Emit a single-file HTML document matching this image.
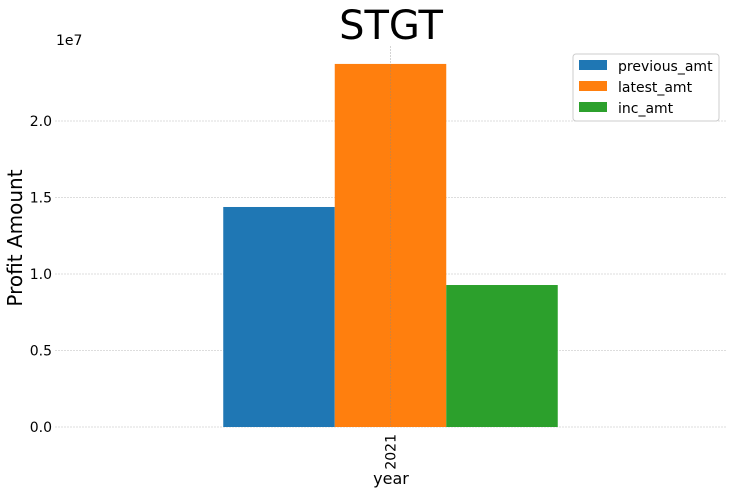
<!DOCTYPE html>
<html><head><meta charset="utf-8"><style>
body{margin:0;background:#fff;font-family:"Liberation Sans","DejaVu Sans",sans-serif;}
svg text{font-family:"DejaVu Sans","Liberation Sans",sans-serif;}
</style></head><body>
<svg id="chart" width="732" height="492" xmlns="http://www.w3.org/2000/svg">
<text x="391" y="39" font-size="40" text-anchor="middle" fill="#000">STGT</text>
<text x="56" y="45" font-size="14" fill="#000">1e7</text>
<text x="22" y="238" font-size="20" text-anchor="middle" transform="rotate(-90 22 238)" fill="#000">Profit Amount</text>
<text x="391" y="484" font-size="16" text-anchor="middle" fill="#000">year</text>
<g id="grid"></g><g id="bars"></g><g id="ticks"></g>
<g>
<rect x="573" y="54" width="146" height="67" rx="3" fill="#fff" fill-opacity="0.8" stroke="#ccc"/>
<rect x="579" y="60" width="28" height="10" fill="#1f77b4"/>
<text x="618" y="71" font-size="14">previous_amt</text>
<rect x="579" y="81" width="28" height="10" fill="#ff7f0e"/>
<text x="618" y="92" font-size="14">latest_amt</text>
<rect x="579" y="102" width="28" height="10" fill="#2ca02c"/>
<text x="618" y="113" font-size="14">inc_amt</text>
</g>
</svg>
<script>
const categories=["2021"];
const seriesNames=["previous_amt","latest_amt","inc_amt"];
const previousAmt=[14380000];
const latestAmt=[23730000];
const incAmt=[9280000];
const yTicks=[0,5000000,10000000,15000000,20000000];
const yTickLabels=["0.0","0.5","1.0","1.5","2.0"];
const colors=["#1f77b4","#ff7f0e","#2ca02c"];
const NS="http://www.w3.org/2000/svg";
const plotLeft=55,plotRight=726,plotTop=46,y0=427,pxPer=76.5/5000000;
const yScale=v=>y0-v*pxPer;
const xc=i=>plotLeft+(plotRight-plotLeft)*(i+0.5)/categories.length;
const barW=111.5;
function mk(t,a,p){const e=document.createElementNS(NS,t);for(const k in a)e.setAttribute(k,a[k]);p.appendChild(e);return e;}
const grid=document.getElementById('grid'),bars=document.getElementById('bars'),ticks=document.getElementById('ticks');
yTicks.forEach((v,i)=>{
 const l=mk('line',{x1:plotLeft,x2:plotRight,y1:yScale(v),y2:yScale(v),stroke:'#bbb','stroke-width':0.6,'stroke-dasharray':'2,1'},grid);
 
 
 const t=mk('text',{x:plotLeft-3,y:yScale(v)+5,'font-size':14,'text-anchor':'end'},ticks);
 t.textContent=yTickLabels[i];
 
 
});
const series=[previousAmt,latestAmt,incAmt];
categories.forEach((c,i)=>{
 series.forEach((s,j)=>{
  const x=xc(i)+(j-1.5)*barW;
  const r=mk('rect',{x:x,y:yScale(s[i]),width:barW,height:y0-yScale(s[i]),fill:colors[j]},bars);
  
  
 });
 const vl=mk('line',{x1:xc(i),x2:xc(i),y1:plotTop,y2:y0,stroke:'#888','stroke-width':0.6,'stroke-dasharray':'2,1','stroke-opacity':0.6},bars);
 
 
 const t=mk('text',{x:xc(i)+5,y:y0+7,'font-size':14,'text-anchor':'end',transform:`rotate(-90 ${xc(i)+5} ${y0+7})`},ticks);
 t.textContent=c;
 
 
});
</script>
</body></html>
